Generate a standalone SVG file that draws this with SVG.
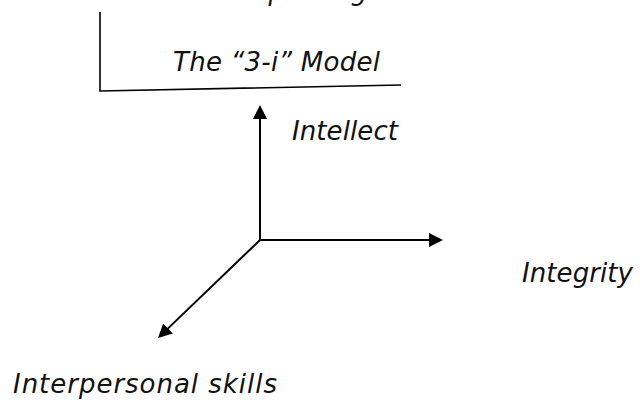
<svg xmlns="http://www.w3.org/2000/svg" width="640" height="400" viewBox="0 0 640 400">
<style>
.t{font-family:"DejaVu Sans","Verdana",sans-serif;font-style:italic;font-size:26px;fill:#111}
.ax{stroke:#000;stroke-width:2;fill:none}
.fr{stroke:#000;stroke-width:1.6;fill:none}
</style>
<defs>
<marker id="ah" viewBox="0 0 14 14" refX="4" refY="7" markerWidth="14" markerHeight="14" markerUnits="userSpaceOnUse" orient="auto">
<path d="M0,0 L14,7 L0,14 z" fill="#000"/>
</marker>
</defs>
<rect width="640" height="400" fill="#fff"/>
<g id="title">
<text class="t" x="85" y="0">The Leadership Being</text>
</g>
<g id="frame">
<path class="fr" d="M100,12 L100,91 L401,85"/>
</g>
<g id="model-label">
<text class="t" x="173" y="71" textLength="207">The “3-i” Model</text>
</g>
<g id="connectors">
<line class="ax" x1="260" y1="240" x2="260" y2="115" marker-end="url(#ah)"/>
<line class="ax" x1="260" y1="240" x2="433" y2="240" marker-end="url(#ah)"/>
<line class="ax" x1="260" y1="240" x2="165.2" y2="331.1" marker-end="url(#ah)"/>
</g>
<g id="intellect">
<text class="t" x="292" y="140" textLength="106">Intellect</text>
</g>
<g id="integrity">
<text class="t" x="522" y="282" textLength="111">Integrity</text>
</g>
<g id="interpersonal">
<text class="t" x="13" y="393" textLength="264">Interpersonal skills</text>
</g>
</svg>
